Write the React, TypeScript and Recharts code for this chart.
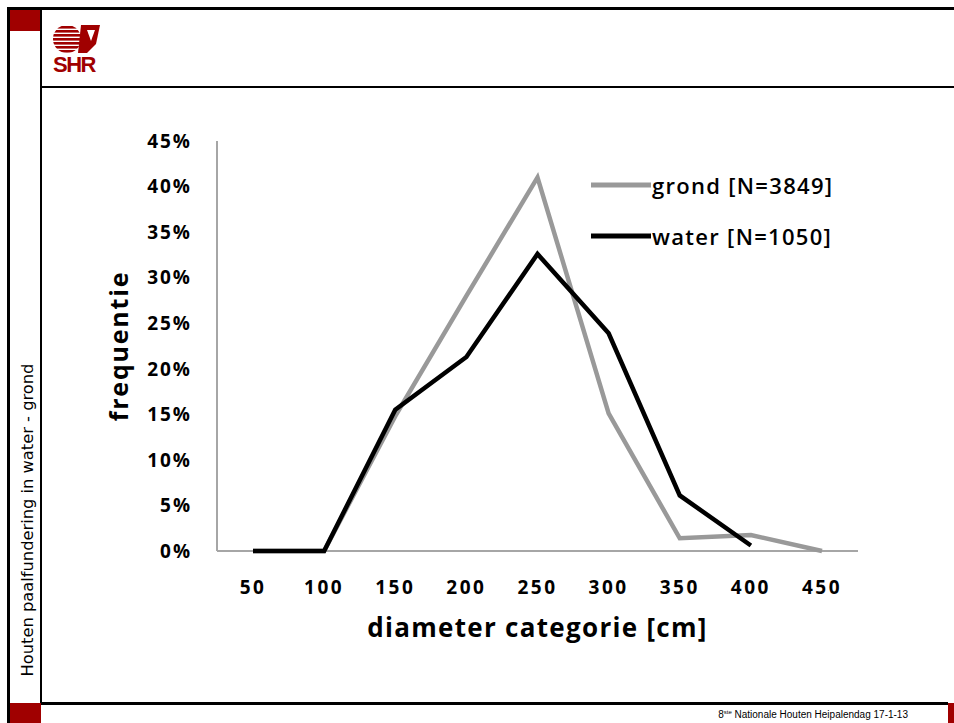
import { LineChart, Line, XAxis, YAxis, Legend, Label } from "recharts";

const categories = ["50", "100", "150", "200", "250", "300", "350", "400", "450"];
const grond = [0, 0, 0.148, 0.28, 0.41, 0.151, 0.014, 0.0175, 0];
const water = [0, 0, 0.155, 0.213, 0.326, 0.239, 0.061, 0.006, null];
const yTicks = [0, 0.05, 0.1, 0.15, 0.2, 0.25, 0.3, 0.35, 0.4, 0.45];
const seriesNames = ["grond [N=3849]", "water [N=1050]"];

const data = categories.map((c, i) => ({
  cat: c,
  grond: grond[i],
  water: water[i],
}));

const RED = "#a00000";
const FONT = "'Open Sans', sans-serif";

function LegendBox({ payload }: any) {
  return (
    <div style={{ fontFamily: FONT }}>
      {(payload || []).map((p: any) => (
        <div
          key={p.value}
          style={{ display: "flex", alignItems: "center", height: 51 }}
        >
          <svg width={60} height={8}>
            <line x1={0} y1={4} x2={60} y2={4} stroke={p.color} strokeWidth={5} />
          </svg>
          <span
            style={{
              fontSize: 22,
              fontWeight: 600,
              color: "#000",
              marginLeft: 1,
              letterSpacing: 1.3,
            }}
          >
            {p.value}
          </span>
        </div>
      ))}
    </div>
  );
}

function YTitle({ viewBox }: any) {
  const cx = viewBox.x + 11;
  const cy = viewBox.y + viewBox.height / 2;
  return (
    <text
      x={cx}
      y={cy}
      transform={`rotate(-90 ${cx} ${cy})`}
      textAnchor="middle"
      dominantBaseline="central"
      fontFamily={FONT}
      fontWeight={700}
      fontSize={25}
      letterSpacing={1.8}
      fill="#000"
    >
      frequentie
    </text>
  );
}

export default function App() {
  return (
    <div
      style={{
        position: "absolute",
        left: 0,
        top: 0,
        width: 954,
        height: 723,
        background: "#fff",
        overflow: "hidden",
      }}
    >
      {/* slide frame */}
      <div style={{ position: "absolute", left: 7, top: 7, width: 947, height: 3, background: "#000" }} />
      <div style={{ position: "absolute", left: 7, top: 7, width: 3, height: 716, background: "#000" }} />
      <div style={{ position: "absolute", left: 10, top: 10, width: 30, height: 21, background: RED }} />
      <div style={{ position: "absolute", left: 40, top: 10, width: 2, height: 693, background: "#000" }} />
      <div style={{ position: "absolute", left: 40, top: 86, width: 914, height: 2, background: "#000" }} />
      <div style={{ position: "absolute", left: 40, top: 702, width: 908, height: 3, background: "#000" }} />
      <div style={{ position: "absolute", left: 10, top: 703, width: 31, height: 20, background: RED }} />
      <div style={{ position: "absolute", left: 948, top: 703, width: 6, height: 20, background: RED }} />

      {/* logo */}
      <svg style={{ position: "absolute", left: 50, top: 22 }} width={54} height={54}>
        <defs>
          <clipPath id="half">
            <circle cx={17} cy={17} r={14} />
          </clipPath>
        </defs>
        <g clipPath="url(#half)">
          {[4, 8, 12, 16, 20, 24, 28].map((y) => (
            <rect key={y} x={0} y={y} width={31} height={2.6} fill={RED} />
          ))}
        </g>
        <polygon points="31,3 50,3 46,22 37,31 28,31" fill={RED} />
        <polygon points="37,8 45,8 41,19" fill="#fff" />
        <text x={3} y={50} fontFamily="'Liberation Sans', Arial" fontWeight={700} fontSize={22} fill={RED} letterSpacing={-1.5}>
          SHR
        </text>
      </svg>

      {/* side title */}
      <div
        style={{
          position: "absolute",
          left: 27,
          top: 520,
          transform: "translate(-50%, -50%) rotate(-90deg)",
          whiteSpace: "nowrap",
          fontFamily: "'DejaVu Sans', sans-serif",
          fontSize: 16.3,
          color: "#000",
        }}
      >
        Houten paalfundering in water - grond
      </div>

      {/* footer */}
      <div
        style={{
          position: "absolute",
          right: 46,
          top: 709,
          fontFamily: "'Liberation Sans', Arial, sans-serif",
          fontSize: 10,
          color: "#000",
          whiteSpace: "nowrap",
        }}
      >
        8<sup style={{ fontSize: 6 }}>ste</sup> Nationale Houten Heipalendag 17-1-13
      </div>

      <div style={{ position: "absolute", left: 0, top: 0 }}>
        <LineChart
          width={954}
          height={723}
          data={data}
          margin={{ top: 141, right: 96, bottom: 142, left: 107 }}
        >
          <XAxis
            dataKey="cat"
            height={30}
            padding={{ left: 36, right: 36 }}
            axisLine={{ stroke: "#a6a6a6", strokeWidth: 2 }}
            tickLine={false}
            tickSize={0}
            tickMargin={30}
            interval={0}
            tick={{ fill: "#000", fontSize: 19, fontWeight: 700, fontFamily: FONT, letterSpacing: 2.5 }}
          >
            <Label
              value="diameter categorie [cm]"
              position="bottom"
              offset={38}
              style={{ fontFamily: FONT, fontWeight: 700, fontSize: 26, fill: "#000", letterSpacing: 1.3 }}
            />
          </XAxis>
          <YAxis
            width={110}
            domain={[0, 0.45]}
            ticks={yTicks}
            interval={0}
            axisLine={{ stroke: "#a6a6a6", strokeWidth: 2 }}
            tickLine={false}
            tickSize={0}
            tickMargin={25}
            tickFormatter={(v: number) => `${Math.round(v * 100)}%`}
            tick={{ fill: "#000", fontSize: 19, fontWeight: 700, fontFamily: FONT, letterSpacing: 2 }}
          >
            <Label content={<YTitle />} />
          </YAxis>
          <Legend
            layout="vertical"
            align="center"
            verticalAlign="middle"
            content={<LegendBox />}
            wrapperStyle={{ left: 591, top: 159, width: 300 }}
          />
          <Line
            dataKey="grond"
            name={seriesNames[0]}
            stroke="#999999"
            strokeWidth={4.5}
            dot={false}
            isAnimationActive={false}
            zIndex={600}
          />
          <Line
            dataKey="water"
            name={seriesNames[1]}
            stroke="#000000"
            strokeWidth={4.5}
            dot={false}
            isAnimationActive={false}
            zIndex={610}
          />
        </LineChart>
      </div>
    </div>
  );
}
